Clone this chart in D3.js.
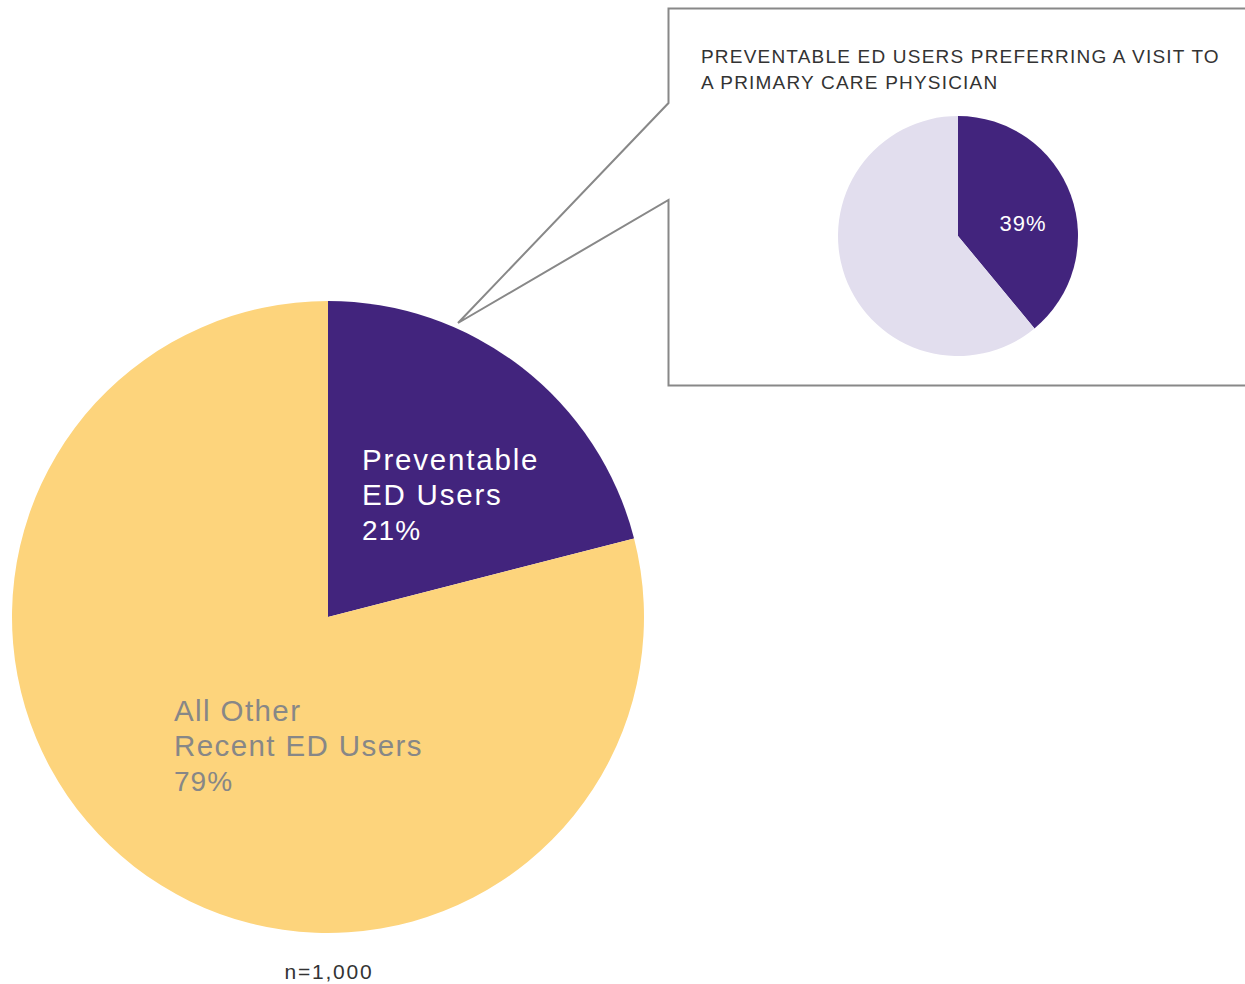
<!DOCTYPE html>
<html><head><meta charset="utf-8">
<script src="https://cdn.jsdelivr.net/npm/d3@7"></script>
<style>html,body{margin:0;padding:0;background:#fff;}svg{display:block;}</style>
</head><body>
<svg id="chart" width="1245" height="984"></svg>
<script>
const mainCategories = ["Preventable ED Users", "All Other Recent ED Users"];
const mainValues = [21, 79];
const mainLabelLines = [["Preventable", "ED Users"], ["All Other", "Recent ED Users"]];
const subCategories = ["Prefer primary care physician", "Other"];
const subValues = [39, 61];
const subTitle = ["PREVENTABLE ED USERS PREFERRING A VISIT TO", "A PRIMARY CARE PHYSICIAN"];
const sampleNote = "n=1,000";

const svg = d3.select("#chart");
const font = "'Liberation Sans', Arial, sans-serif";

// Main pie
const mainColor = d3.scaleOrdinal().domain(mainCategories).range(["#42247d", "#fdd47c"]);
const pie = d3.pie().sort(null).value(d => d);
const mainArc = d3.arc().innerRadius(0).outerRadius(316);
const gMain = svg.append("g").attr("transform", "translate(328,617)");
const mainData = pie(mainValues);
gMain.selectAll("path").data(mainData).join("path")
  .attr("d", mainArc).attr("fill", (d, i) => mainColor(mainCategories[i]));

// Main labels
const labelPos = [{x: 362, y: 470, color: "#ffffff", ls: 1.8}, {x: 174, y: 721, color: "#878787", ls: 1.4}];
mainData.forEach((d, i) => {
  const p = labelPos[i];
  const t = svg.append("text").attr("font-family", font).attr("fill", p.color);
  mainLabelLines[i].forEach((line, j) => {
    t.append("tspan").attr("x", p.x).attr("y", p.y + j * 35).attr("font-size", 29.5)
      .attr("letter-spacing", p.ls).text(line);
  });
  t.append("tspan").attr("x", p.x).attr("y", p.y + 70).attr("font-size", 28)
    .attr("letter-spacing", 1).text(mainValues[i] + "%");
});

svg.append("text").attr("x", 329).attr("y", 979).attr("text-anchor", "middle")
  .attr("font-family", font).attr("font-size", 21).attr("letter-spacing", 1.8).attr("fill", "#333")
  .text(sampleNote);

// Callout box with pointer
const tip = [458, 323];
const boxPath = d3.path();
boxPath.moveTo(1250, 8.5);
boxPath.lineTo(668.5, 8.5);
boxPath.lineTo(668.5, 103);
boxPath.lineTo(tip[0], tip[1]);
boxPath.lineTo(668.5, 200);
boxPath.lineTo(668.5, 385.5);
boxPath.lineTo(1250, 385.5);
svg.append("path").attr("d", boxPath.toString()).attr("fill", "none")
  .attr("stroke", "#888888").attr("stroke-width", 2);

// Title
const tt = svg.append("text").attr("font-family", font).attr("font-size", 19)
  .attr("letter-spacing", 1.2).attr("fill", "#333");
subTitle.forEach((line, j) => {
  tt.append("tspan").attr("x", 701).attr("y", 63 + j * 26).text(line);
});

// Sub pie
const subColor = d3.scaleOrdinal().domain(subCategories).range(["#42247d", "#e2deee"]);
const subArc = d3.arc().innerRadius(0).outerRadius(120);
const gSub = svg.append("g").attr("transform", "translate(958,236)");
const subData = pie(subValues);
gSub.selectAll("path").data(subData).join("path")
  .attr("d", subArc).attr("fill", (d, i) => subColor(subCategories[i]));
gSub.append("text").attr("x", 65).attr("y", -5).attr("text-anchor", "middle")
  .attr("font-family", font).attr("font-size", 22).attr("letter-spacing", 1).attr("fill", "#fff")
  .text(subValues[0] + "%");
</script>
</body></html>
